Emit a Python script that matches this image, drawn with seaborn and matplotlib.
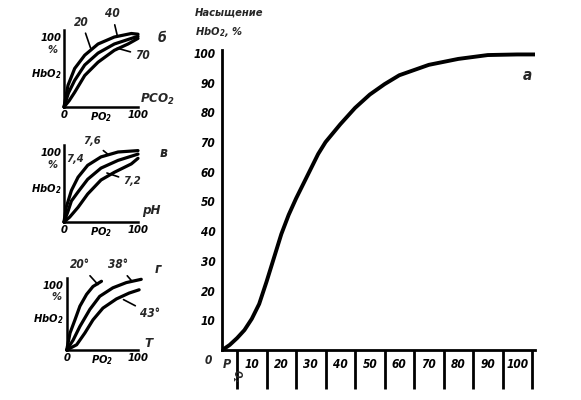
import matplotlib
matplotlib.use("Agg")
import matplotlib.pyplot as plt
import seaborn as sns

# main curve: HbO2 saturation vs PO2
po2 = [0, 2.5, 5, 7.5, 10, 12.5, 15, 17.5, 20, 22.5, 25, 27.5, 30, 32.5, 35, 40, 45, 50,
       55, 60, 70, 80, 90, 100, 106]
sat = [0, 1.7, 4, 6.7, 10.5, 15.5, 23, 31, 39, 45.5, 51, 56, 61, 66, 70, 76, 81.5, 86,
       89.5, 92.5, 96, 98, 99.3, 99.5, 99.5]
main_ticks = [10, 20, 30, 40, 50, 60, 70, 80, 90, 100]
sep_x = [5, 15, 25, 35, 45, 55, 65, 75, 85, 95, 105]

# panel б: PCO2 20 / 40 / 70
b20_x = [0, 5.4, 14.4, 28, 46, 68, 91, 100]
b20_y = [0, 31, 55, 74, 90, 100, 105, 104]
b40_x = [0, 6, 14.4, 28, 46, 68, 91, 100]
b40_y = [0, 20, 38, 60, 77, 90, 98, 101]
b70_x = [0, 7, 14.4, 28, 46, 68, 86.5, 100]
b70_y = [0, 9, 21, 45, 64, 81, 90, 98]

# panel в: pH 7,6 / 7,4 / 7,2
v76_x = [0, 3, 10, 19, 32, 50, 73, 100]
v76_y = [0, 21, 45, 64, 81, 93, 100, 102]
v74_x = [0, 5, 10, 19, 32, 50, 73, 100]
v74_y = [0, 14, 30, 43, 61, 77, 88, 97]
v72_x = [0, 7.7, 19, 32, 50, 68, 91, 100]
v72_y = [0, 7, 21, 40, 60, 71, 83, 91]

# panel г: temperature 20° / 38° / 43°
g20_x = [0, 4.7, 11.6, 18.6, 28, 37, 49]
g20_y = [0, 26, 46, 67, 85, 97, 105]
g38_x = [0, 9, 18.6, 32.6, 46.5, 65, 84, 105]
g38_y = [0, 15, 36, 62, 82, 95, 103, 108]
g43_x = [0, 14, 25.6, 37, 51, 70, 88, 102]
g43_y = [0, 8, 26, 46, 64, 78, 87, 92]

sns.set_style("white")
plt.rcParams['font.family'] = ['DejaVu Sans']
plt.rcParams['font.style'] = 'italic'
plt.rcParams['font.weight'] = 'bold'
plt.rcParams['font.stretch'] = 'condensed'

W, H = 581, 400
fig = plt.figure(figsize=(W / 100, H / 100), dpi=100)


def px(x, y):
    return x / W, 1 - y / H


# ---- main chart
ax = fig.add_axes([222.3 / W, 50 / H, 312.7 / W, 300 / H])
sns.lineplot(x=po2, y=sat, ax=ax, color='black', lw=2.8, sort=False)
ax.set_xlim(0, 106)
ax.set_ylim(0, 101)
for s in ['top', 'right']:
    ax.spines[s].set_visible(False)
for s in ['left', 'bottom']:
    ax.spines[s].set_linewidth(2)
    ax.spines[s].set_color('black')
ax.set_xticks(main_ticks)
ax.set_xticklabels([str(t) for t in main_ticks])
ax.set_yticks(main_ticks)
ax.set_yticklabels([str(t) for t in main_ticks])
ax.tick_params(axis='both', direction='in', length=4, width=1.5, labelsize=8.5, colors='black')
ax.tick_params(axis='x', pad=6)
ax.tick_params(axis='y', pad=5)
ax.vlines(sep_x, -13, 0, color='black', lw=2, clip_on=False)
ax.set_xlabel('')
ax.set_ylabel('')
ax.text(-3.5, -1.5, '0', ha='right', va='top', fontsize=8.5)
ax.text(0.3, -2.6, 'P', ha='left', va='top', fontsize=9)
ax.text(2.6, -6.3, 'O$_2$', ha='left', va='top', fontsize=7, rotation=270)
ax.text(103.5, 95, 'а', ha='center', va='top', fontsize=11)
fig.text(*px(195, 8), 'Насыщение', ha='left', va='top', fontsize=8)
fig.text(*px(195, 25), 'HbO$_2$, %', ha='left', va='top', fontsize=8)


def small_panel(rect, curves, right_label, rl_pos, letter, l_pos):
    a = fig.add_axes(rect)
    for cx, cy in curves:
        sns.lineplot(x=cx, y=cy, ax=a, color='black', lw=2.3, sort=False)
        a.lines[-1].set_clip_on(False)
    a.set_xlim(0, 100)
    a.set_ylim(0, 110)
    for s in ['top', 'right']:
        a.spines[s].set_visible(False)
    for s in ['left', 'bottom']:
        a.spines[s].set_linewidth(1.8)
        a.spines[s].set_color('black')
    a.set_xticks([0, 50, 100])
    a.set_xticklabels(['0', 'PO$_2$', '100'])
    a.set_yticks([100, 50])
    a.set_yticklabels(['100', 'HbO$_2$'])
    a.tick_params(axis='both', direction='in', length=3, width=1.2, labelsize=8, colors='black', pad=2)
    a.text(-15, 81, '%', ha='center', va='center', fontsize=8)
    a.text(rl_pos[0], rl_pos[1], right_label, ha='left', va='center', fontsize=9.5)
    a.text(l_pos[0], l_pos[1], letter, ha='center', va='center', fontsize=10)
    a.set_xlabel('')
    a.set_ylabel('')
    return a


leader = dict(arrowstyle='-', color='black', lw=1.2, shrinkA=1, shrinkB=0)

ab = small_panel([64 / W, 1 - 107 / H, 74 / W, 77 / H],
                 [(b20_x, b20_y), (b40_x, b40_y), (b70_x, b70_y)],
                 'PCO$_2$', (103, 11), 'б', (133, 99))
ab.annotate('20', xy=(36, 84), xytext=(24, 112), fontsize=8.5, ha='center', va='bottom',
            arrowprops=leader, annotation_clip=False)
ab.annotate('40', xy=(72, 102), xytext=(65, 124), fontsize=8.5, ha='center', va='bottom',
            arrowprops=leader, annotation_clip=False)
ab.annotate('70', xy=(72, 84), xytext=(96, 74), fontsize=8.5, ha='left', va='center',
            arrowprops=leader, annotation_clip=False)

av = small_panel([64 / W, 1 - 222 / H, 74 / W, 77 / H],
                 [(v76_x, v76_y), (v74_x, v74_y), (v72_x, v72_y)],
                 'pH', (106, 17), 'в', (134, 99))
av.annotate('7,6', xy=(59, 97), xytext=(38, 108), fontsize=8, ha='center', va='bottom',
            arrowprops=leader, annotation_clip=False)
av.text(15, 90, '7,4', fontsize=8, ha='center', va='center')
av.annotate('7,2', xy=(58, 70), xytext=(80, 58), fontsize=8, ha='left', va='center',
            arrowprops=leader, annotation_clip=False)

ag = small_panel([66.7 / W, 1 - 350 / H, 71 / W, 72 / H],
                 [(g20_x, g20_y), (g38_x, g38_y), (g43_x, g43_y)],
                 'T', (110, 10), 'г', (128, 123))
ag.annotate('20°', xy=(44, 100), xytext=(19, 120), fontsize=8.5, ha='center', va='bottom',
            arrowprops=leader, annotation_clip=False)
ag.annotate('38°', xy=(92, 105), xytext=(72, 120), fontsize=8.5, ha='center', va='bottom',
            arrowprops=leader, annotation_clip=False)
ag.annotate('43°', xy=(80, 77), xytext=(103, 56), fontsize=8.5, ha='left', va='center',
            arrowprops=leader, annotation_clip=False)

fig.savefig('out.png', dpi=100)
